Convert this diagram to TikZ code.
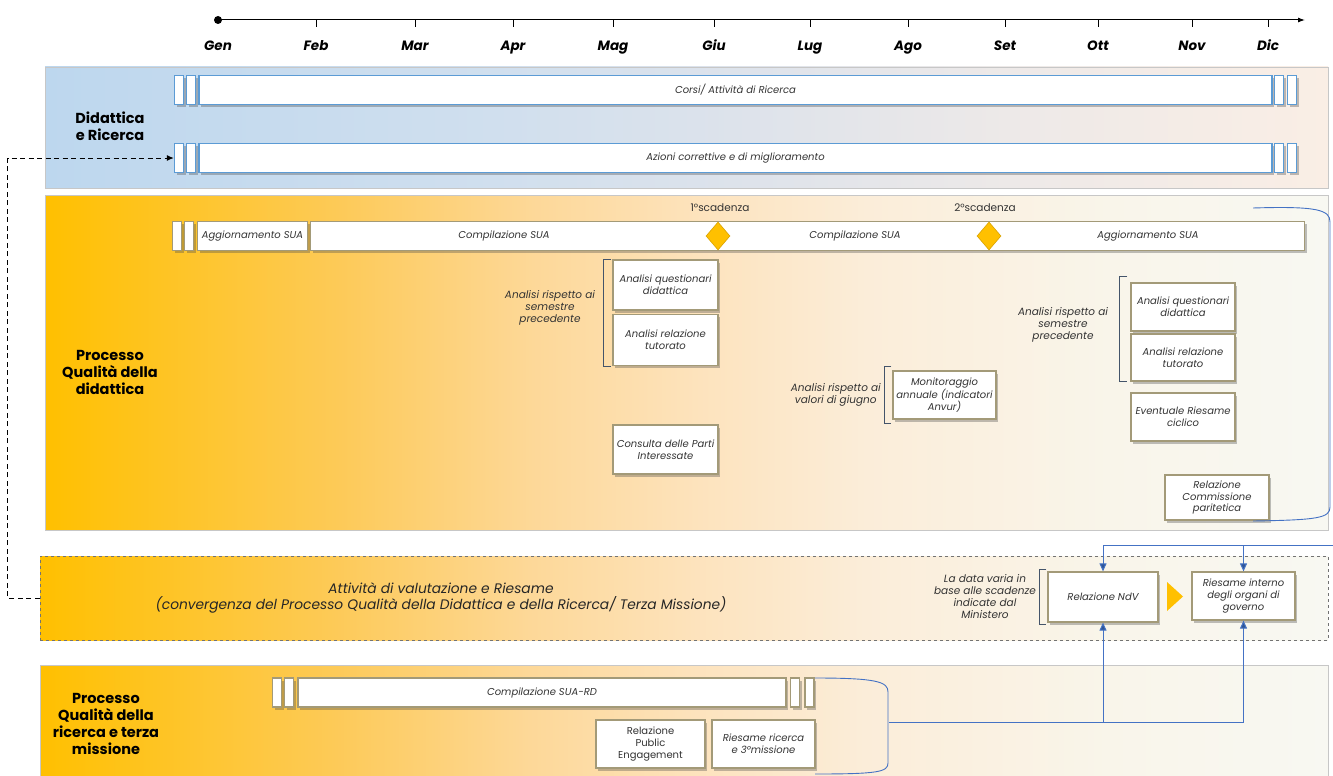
\documentclass[tikz,border=0pt]{standalone}
\usepackage{fontspec}
\setmainfont{Poppins}
\usetikzlibrary{shapes.geometric,shadows,arrows.meta}
\definecolor{barblue}{HTML}{5B9BD5}
\definecolor{boxline}{HTML}{A39A78}
\definecolor{gold}{HTML}{FFC000}
\definecolor{connc}{HTML}{4472C4}
\definecolor{conntip}{HTML}{2F5597}
\definecolor{brk}{HTML}{44546A}
\definecolor{txt}{HTML}{333333}
\definecolor{o1}{HTML}{FDCA58}
\definecolor{o2}{HTML}{FDD898}
\definecolor{o3}{HTML}{FDE3BD}
\definecolor{o4}{HTML}{FBEDD9}
\definecolor{o5}{HTML}{F9F5EA}
\definecolor{o6}{HTML}{F8F8F2}
\definecolor{b0}{HTML}{BDD7EE}
\definecolor{b1}{HTML}{D0DFEE}
\definecolor{b2}{HTML}{DEE3EB}
\definecolor{b3}{HTML}{EDE9E8}
\definecolor{b4}{HTML}{FAEEE5}
\pgfdeclarehorizontalshading{orashade}{100bp}{color(0bp)=(gold); color(25bp)=(gold); color(36.5bp)=(o1); color(44bp)=(o2); color(50.5bp)=(o3); color(57bp)=(o4); color(66.5bp)=(o5); color(75bp)=(o6); color(100bp)=(o6)}
\pgfdeclarehorizontalshading{blushade}{100bp}{color(0bp)=(b0); color(25bp)=(b0); color(42.5bp)=(b1); color(52.5bp)=(b2); color(62.5bp)=(b3); color(75bp)=(b4); color(100bp)=(b4)}
\tikzset{
  shd/.style={drop shadow={shadow xshift=2pt,shadow yshift=-2.5pt,opacity=.35,fill=black!70}},
  secbox/.style={draw=black!22,line width=0.7pt,inner sep=0pt},
  bluebar/.style={draw=barblue,line width=1.4pt,fill=white,shd,inner sep=0pt,minimum height=29pt,
    font=\itshape\fontsize{10}{12}\selectfont,text=txt},
  gbar/.style={draw=boxline,line width=1.2pt,fill=white,shd,inner sep=0pt,minimum height=29pt,
    font=\itshape\fontsize{10}{12}\selectfont,text=txt},
  gbox/.style={draw=boxline,line width=1.2pt,fill=white,shd,inner sep=1pt,align=center,
    font=\itshape\fontsize{10}{11.6}\selectfont,text=txt},
  bartext/.style={font=\itshape\fontsize{10}{12}\selectfont,text=txt,inner sep=0pt},
  side/.style={align=center,font=\itshape\fontsize{10.5}{12}\selectfont,text=txt,inner sep=0pt},
  sectitle/.style={align=center,font=\bfseries\fontsize{14.5}{17}\selectfont,text=black},
  month/.style={font=\bfseries\itshape\fontsize{13.5}{15}\selectfont,anchor=base,inner sep=0pt},
  brack/.style={draw=brk,line width=0.9pt},
  bracecurve/.style={draw=connc,line width=0.9pt},
  link/.style={draw=connc,line width=1pt,-{Triangle[width=7pt,length=8pt,fill=conntip]}},
  diam/.style={diamond,fill=gold,draw=gold!85!black,line width=0.6pt,inner sep=0pt,minimum width=24pt,minimum height=28pt},
}
\begin{document}
\begin{tikzpicture}[x=1pt,y=-1pt]
\useasboundingbox (0,0) rectangle (1333,776);
\fill[white] (0,0) rectangle (1333,776);

% ---------- timeline ----------
\coordinate (t0) at (218,20);
\coordinate (t1) at (1305,20);
\draw[line width=1pt,-{Latex[length=7pt,width=5pt]}] (t0) -- (t1);
\fill (t0) circle (4);
\node[month] (mGen) at (218,51) {Gen};
\foreach \x/\m in {316/Feb,415/Mar,513/Apr,613/Mag,714/Giu,810/Lug,908/Ago,1005/Set,1098/Ott,1192/Nov,1268/Dic}{
  \draw[line width=0.8pt] (\x,20) -- (\x,27);
  \node[month] (m\m) at (\x,51) {\m};
}

% ---------- section boxes ----------
\node[secbox,shading=blushade,minimum width=1283pt,minimum height=121pt] (dsec) at (686.5,127.5) {};
\node[secbox,shading=orashade,minimum width=1283pt,minimum height=335pt] (psec) at (686.5,362.5) {};
\node[secbox,draw=black!55,dashed,shading=orashade,minimum width=1288pt,minimum height=84pt] (asec) at (684,598) {};
\node[secbox,shading=orashade,minimum width=1288pt,minimum height=113pt] (rsec) at (684,721.5) {};

\node[sectitle] (tD) at (110,126) {Didattica\\e Ricerca};
\node[sectitle] (tP) at (110,372) {Processo\\Qualità della\\didattica};
\node[sectitle] (tR) at (106,724) {Processo\\Qualità della\\ricerca e terza\\missione};

% ---------- Didattica e Ricerca bars ----------
\node[bluebar,minimum width=9pt] (a1) at (179,90) {};
\node[bluebar,minimum width=9pt] (a2) at (191,90) {};
\node[bluebar,minimum width=1073pt] (corsi) at (735.5,90) {Corsi/ Attività di Ricerca};
\node[bluebar,minimum width=9pt] (a3) at (1279,90) {};
\node[bluebar,minimum width=9pt] (a4) at (1292,90) {};
\node[bluebar,minimum width=9pt] (b1) at (179,158) {};
\node[bluebar,minimum width=9pt] (b2) at (191,158) {};
\node[bluebar,minimum width=1073pt] (azioni) at (735.5,158) {Azioni correttive e di miglioramento};
\node[bluebar,minimum width=9pt] (b3) at (1279,158) {};
\node[bluebar,minimum width=9pt] (b4) at (1292,158) {};

% dashed feedback arrow
\draw[dash pattern=on 5pt off 3.5pt,line width=1pt,-{Latex[length=7pt,width=6pt]}] (asec.west) -- ++(-32,0) |- (b1.west);

% ---------- Processo Qualità della didattica ----------
\node[gbar,minimum width=9pt] (s1) at (177,236) {};
\node[gbar,minimum width=9pt] (s2) at (189,236) {};
\node[gbar,minimum width=110pt] (agg1) at (252.5,236) {Aggiornamento SUA};
\node[gbar,minimum width=994pt] (sua) at (807.5,236) {};
\node[bartext] (comp1) at (504,236) {Compilazione SUA};
\node[bartext] (comp2) at (855,236) {Compilazione SUA};
\node[bartext] (agg2) at (1148,236) {Aggiornamento SUA};
\node[diam] (d1) at (718,236) {};
\node[diam] (d2) at (989,236) {};
\node[side,font=\fontsize{10.5}{12}\selectfont] (sc1) at (720,208) {1°scadenza};
\node[side,font=\fontsize{10.5}{12}\selectfont] (sc2) at (985,208) {2°scadenza};

\node[gbox,minimum width=105pt,minimum height=50pt] (q1) at (665.5,285) {Analisi questionari\\didattica};
\node[gbox,minimum width=105pt,minimum height=51pt] (r1) at (665.5,340) {Analisi relazione\\tutorato};
\draw[brack] ([xshift=-1pt]q1.north west) -- ++(-8,0) |- ([xshift=-1pt]r1.south west);
\node[side] (l1) at (550,308) {Analisi rispetto ai\\semestre\\precedente};

\node[gbox,minimum width=105pt,minimum height=49pt] (cons) at (665.5,449.5) {Consulta delle Parti\\Interessate};

\node[gbox,minimum width=103pt,minimum height=48pt] (mon) at (944.5,395) {Monitoraggio\\annuale (indicatori\\Anvur)};
\draw[brack] ([xshift=-1pt,yshift=4pt]mon.north west) -- ++(-7,0) |- ([xshift=-1pt,yshift=-4pt]mon.south west);
\node[side,anchor=east] (l2) at (881,395) {Analisi rispetto ai\\valori di giugno};

\node[gbox,minimum width=104pt,minimum height=48pt] (q2) at (1183,307) {Analisi questionari\\didattica};
\node[gbox,minimum width=104pt,minimum height=47pt] (r2) at (1183,357.5) {Analisi relazione\\tutorato};
\draw[brack] ([xshift=-3pt,yshift=6pt]q2.north west) -- ++(-8,0) |- ([xshift=-3pt]r2.south west);
\node[side] (l3) at (1063,325) {Analisi rispetto ai\\semestre\\precedente};

\node[gbox,minimum width=104pt,minimum height=48pt] (eve) at (1183,417) {Eventuale Riesame\\ciclico};
\node[gbox,minimum width=104pt,minimum height=45pt] (rcp) at (1217,497.5) {Relazione\\Commissione\\paritetica};

% right brace of didattica section
\coordinate (pbTop) at (1253,208);
\coordinate (pbBot) at (1253,521);
\draw[bracecurve] (pbTop) .. controls (1318,206) and (1330,210) .. (1330,222) -- (1330,507) .. controls (1330,518) and (1318,520) .. (pbBot);

% ---------- Attività di valutazione e Riesame ----------
\node[align=center,font=\itshape\fontsize{13.8}{16.5}\selectfont,text=black!85] (att) at (441,598)
  {Attività di valutazione e Riesame\\(convergenza del Processo Qualità della Didattica e della Ricerca/ Terza Missione)};
\node[side] (l4) at (985,597) {La data varia in\\base alle scadenze\\indicate dal\\Ministero};
\node[gbox,minimum width=110pt,minimum height=50pt] (ndv) at (1103,597) {Relazione NdV};
\draw[brack] ([xshift=-1pt,yshift=2pt]ndv.north west) -- ++(-7,0) |- ([xshift=-1pt,yshift=-2pt]ndv.south west);
\fill[gold] (1167,582) -- (1183,596.5) -- (1167,611) -- cycle;
\node[gbox,minimum width=103pt,minimum height=48pt] (rig) at (1243.5,596) {Riesame interno\\degli organi di\\governo};

% ---------- Processo Qualità della ricerca ----------
\node[gbar,minimum width=9pt] (u1) at (277,692.5) {};
\node[gbar,minimum width=9pt] (u2) at (289,692.5) {};
\node[gbar,minimum width=488pt] (suard) at (542,692.5) {Compilazione SUA-RD};
\node[gbar,minimum width=9pt] (u3) at (795,692.5) {};
\node[gbar,minimum width=9pt] (u4) at (809.5,692.5) {};
\node[gbox,minimum width=109pt,minimum height=48pt,font=\fontsize{10}{11.6}\selectfont] (rpe) at (650.5,744) {Relazione\\Public\\Engagement};
\node[gbox,minimum width=103pt,minimum height=48pt] (rr3) at (763.5,744) {Riesame ricerca\\e 3°missione};

\coordinate (rbTip) at (889,722);
\draw[bracecurve] (815,678) .. controls (878,678) and (888,682) .. (888,692) -- (888,763) .. controls (888,772) and (878,774) .. (815,774);

% ---------- connectors ----------
\coordinate (rt) at (1333,545);
\draw[link] (rt) -| (ndv.north);
\draw[link] (rt) -| (rig.north);
\draw[link] (rbTip) -| (ndv.south);
\draw[link] (rbTip) -| (rig.south);
\end{tikzpicture}
\end{document}
